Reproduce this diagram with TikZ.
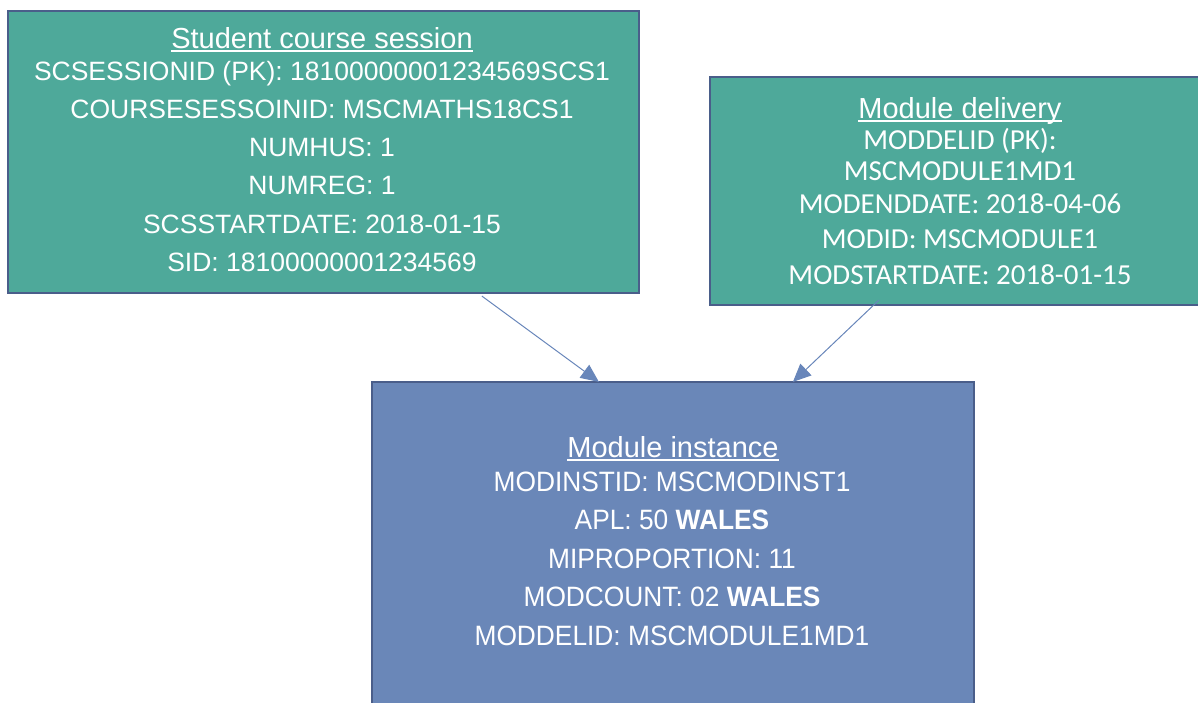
\documentclass[tikz,border=0pt]{standalone}
\usepackage{fontspec}
\setmainfont{Liberation Sans}
\newfontfamily\calfont{Carlito}
\newfontfamily\narrowfont[FakeStretch=0.94]{Liberation Sans}
\usetikzlibrary{arrows.meta}
\definecolor{teal1}{HTML}{4EA99A}
\definecolor{blue1}{HTML}{6A87B8}
\definecolor{edge1}{HTML}{4A5E8A}
\definecolor{arr1}{HTML}{6886BA}
\begin{document}
\begin{tikzpicture}[x=1pt,y=-1pt,
  tbox/.style={draw=edge1,line width=2.2pt,fill=teal1,rectangle,inner sep=0pt},
  bbox/.style={draw=edge1,line width=2.2pt,fill=blue1,rectangle,inner sep=0pt},
  ttl/.style={anchor=base,text=white,inner sep=0pt,font=\fontsize{29}{34}\selectfont},
  scl/.style={anchor=base,text=white,inner sep=0pt,font=\fontsize{26.5}{32}\selectfont},
  mdl/.style={anchor=base,text=white,inner sep=0pt,font=\calfont\fontsize{29}{34}\selectfont},
  mil/.style={anchor=base,text=white,inner sep=0pt,font=\narrowfont\fontsize{28}{34}\selectfont},
  uline/.style={draw=white,line width=1.8pt},
  conn/.style={draw=arr1,line width=1pt,-{Triangle[length=18pt,width=16pt]}}]
\useasboundingbox (0,0) rectangle (1198,702);
\clip (0,0) rectangle (1198,702);
\node[tbox,minimum width=631pt,minimum height=282pt] (sc) at (323.5,152) {};
\node[tbox,minimum width=505pt,minimum height=228pt] (md) at (962.5,191) {};
\node[bbox,minimum width=602pt,minimum height=338pt] (mi) at (673,551) {};
% Student course session
\node[ttl] (sct) at (322,48) {Student course session};
\draw[uline] ([yshift=-3pt]sct.base west) -- ([yshift=-3pt]sct.base east);
\node[scl] (sc1) at (322,80) {SCSESSIONID (PK): 18100000001234569SCS1};
\node[scl] (sc2) at (322,118) {COURSESESSOINID: MSCMATHS18CS1};
\node[scl] (sc3) at (322,156) {NUMHUS: 1};
\node[scl] (sc4) at (322,194) {NUMREG: 1};
\node[scl] (sc5) at (322,233) {SCSSTARTDATE: 2018-01-15};
\node[scl] (sc6) at (322,271) {SID: 18100000001234569};
% Module delivery
\node[ttl] (mdt) at (960,118) {Module delivery};
\draw[uline] ([yshift=-3pt]mdt.base west) -- ([yshift=-3pt]mdt.base east);
\node[mdl] (md1) at (960,149) {MODDELID (PK):};
\node[mdl] (md2) at (960,180) {MSCMODULE1MD1};
\node[mdl] (md3) at (960,213) {MODENDDATE: 2018-04-06};
\node[mdl] (md4) at (960,248) {MODID: MSCMODULE1};
\node[mdl] (md5) at (960,284) {MODSTARTDATE: 2018-01-15};
% Module instance
\node[ttl] (mit) at (673,457) {Module instance};
\draw[uline] ([yshift=-3pt]mit.base west) -- ([yshift=-3pt]mit.base east);
\node[mil] (mi1) at (672,491) {MODINSTID: MSCMODINST1};
\node[mil] (mi2) at (672,529) {APL: 50 \textbf{WALES}};
\node[mil] (mi3) at (672,568) {MIPROPORTION: 11};
\node[mil] (mi4) at (672,606) {MODCOUNT: 02 \textbf{WALES}};
\node[mil] (mi5) at (672,645) {MODDELID: MSCMODULE1MD1};
% connectors
\draw[conn] ([xshift=475pt,yshift=-2pt]sc.south west) -- ([xshift=228pt,yshift=-1pt]mi.north west);
\draw[conn] ([xshift=170pt,yshift=6pt]md.south west) -- ([xshift=422pt,yshift=-1pt]mi.north west);
\end{tikzpicture}
\end{document}
